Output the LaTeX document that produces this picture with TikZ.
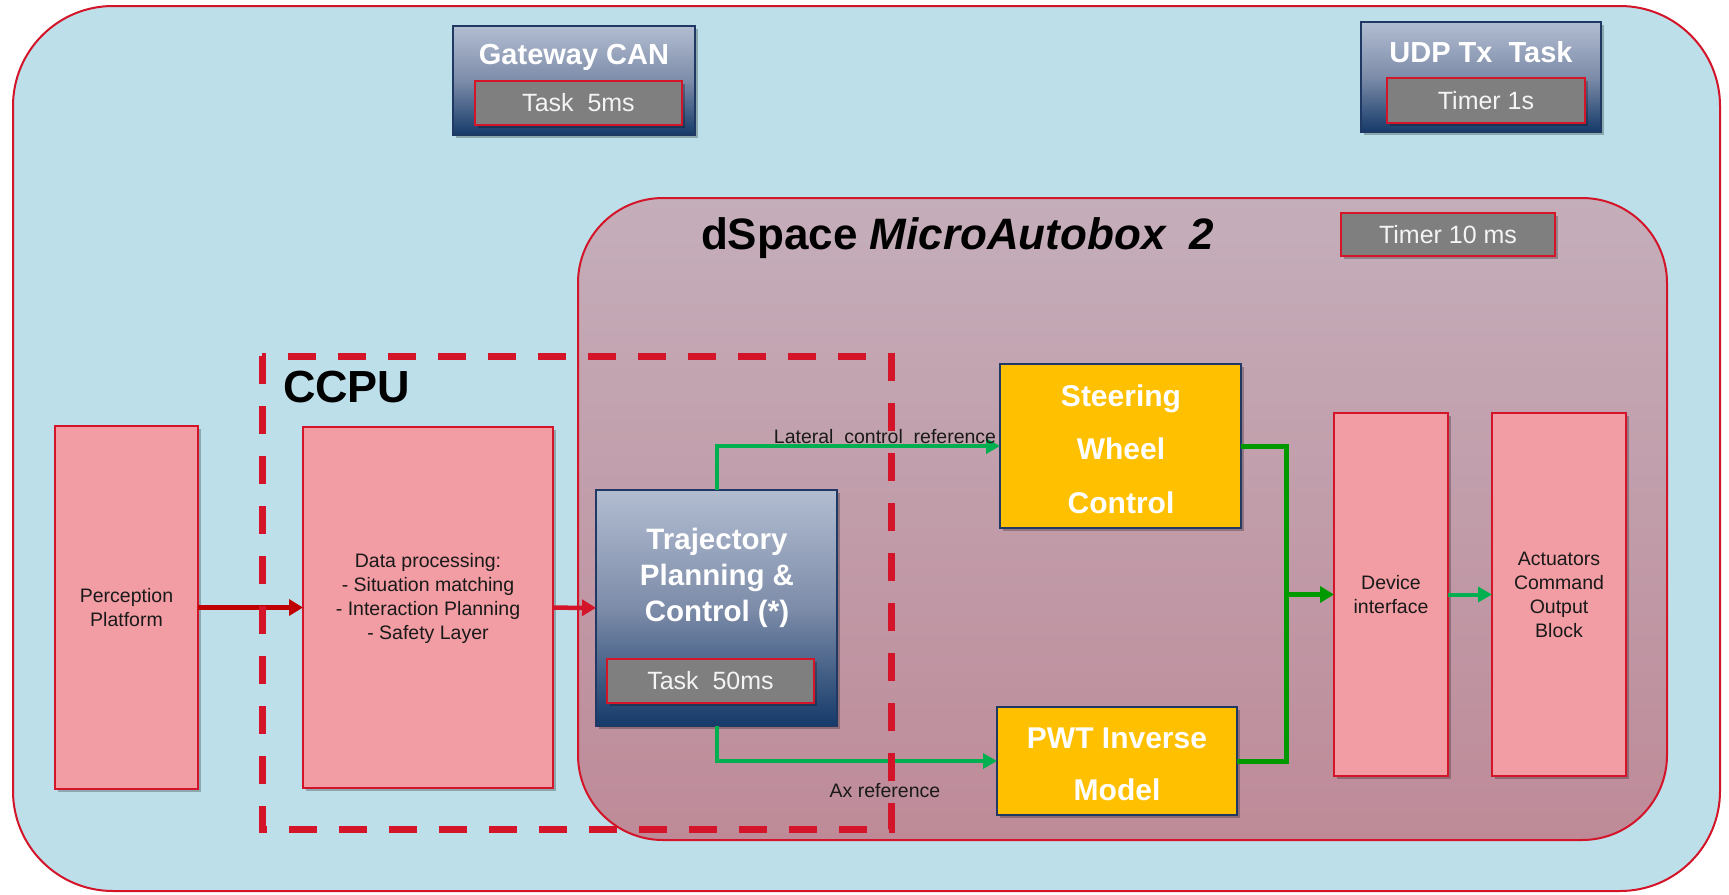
\documentclass[tikz,border=0pt]{standalone}
\usepackage{fontspec}
\setmainfont{Liberation Sans}
\usetikzlibrary{arrows.meta,shadows,calc}
\definecolor{outerblue}{HTML}{BDDFEA}
\definecolor{bred}{HTML}{D41428}
\definecolor{pinkf}{HTML}{F29CA3}
\definecolor{navy}{HTML}{1F3864}
\definecolor{gold}{HTML}{FFC000}
\definecolor{grn}{HTML}{00B050}
\definecolor{dgrn}{HTML}{009A00}
\definecolor{dred}{HTML}{C00000}
\definecolor{mtop}{HTML}{C4AEBA}
\definecolor{mbot}{HTML}{BE8A98}
\definecolor{gtop}{HTML}{B2BDD1}
\definecolor{gmid}{HTML}{7D8CA9}
\definecolor{gbot}{HTML}{153A69}
\definecolor{grayf}{HTML}{7F7F7F}
\definecolor{txt}{HTML}{1A1A1A}
\definecolor{wtxt}{HTML}{F4F4F4}
\begin{document}
\begin{tikzpicture}[x=1pt,y=-1pt,
  every node/.style={inner sep=0pt, outer sep=0pt},
  shad/.style={drop shadow={shadow xshift=2.5pt,shadow yshift=-3pt,opacity=0.25,fill=black}},
  pinkbox/.style={draw=bred, line width=2.5pt, fill=pinkf, shad, align=center, text=txt, font=\fontsize{19.5}{24}\selectfont},
  navybox/.style={draw=navy, line width=2.5pt, top color=gtop, bottom color=gbot, middle color=gmid, shad},
  graybox/.style={draw=bred, line width=2.5pt, fill=grayf, shad, text=wtxt, font=\fontsize{25}{30}\selectfont},
  goldbox/.style={draw=navy, line width=2.5pt, fill=gold, shad},
  goldtxt/.style={align=center, text=white, font=\bfseries\fontsize{30}{53.5}\selectfont},
  boldw/.style={text=white, font=\bfseries\fontsize{29}{35}\selectfont, align=center},
  plaintxt/.style={align=center, text=txt, font=\fontsize{19.5}{24}\selectfont},
  lbl/.style={text=txt, font=\fontsize{19.5}{24}\selectfont},
  redarr/.style={line width=4.5pt, -{Triangle[length=14pt,width=16pt]}},
  grnarr/.style={draw=grn, line width=4pt, -{Triangle[length=14pt,width=15pt]}},
  dgline/.style={draw=dgrn, line width=5pt},
  ccpu/.style={draw=bred, line width=7pt, dash pattern=on 28pt off 22pt}
]
\useasboundingbox (0,0) rectangle (1729,894);
\fill[white] (0,0) rectangle (1729,894);
% containers
\draw[draw=bred, line width=2pt, fill=outerblue, rounded corners=100pt] (13,6) rectangle (1720,891);
\draw[draw=bred, line width=2pt, top color=mtop, bottom color=mbot, rounded corners=85pt] (578,198) rectangle (1667,840);

% top task boxes
\node[navybox, minimum width=242, minimum height=109] (gw) at (574,80.5) {};
\node[boldw] (gwt) at (574,57) {Gateway CAN};
\node[graybox, minimum width=207, minimum height=44] (gwg) at (578.5,103) {Task~ 5ms};

\node[navybox, minimum width=240, minimum height=110] (udp) at (1481,77) {};
\node[boldw] (udpt) at (1481,52) {UDP Tx~ Task};
\node[graybox, minimum width=198, minimum height=45] (udpg) at (1486,100.5) {Timer 1s};

% dSpace title and timer
\node[anchor=base west, text=black, font=\bfseries\fontsize{44}{50}\selectfont] (ds) at (701,249) {dSpace \textit{MicroAutobox~ 2}};
\node[graybox, minimum width=214, minimum height=43] (t10) at (1448,234.5) {Timer 10 ms};

% CCPU title
\node[anchor=base west, text=black, font=\bfseries\fontsize{45}{50}\selectfont] (ccput) at (283,402) {CCPU};

% blocks
\node[pinkbox, minimum width=143, minimum height=363] (perc) at (126.5,607.5) {Perception\\Platform};
\node[pinkbox, minimum width=250, minimum height=361] (data) at (428,607.5) {};
\node[plaintxt] (datat) at (428,598) {Data processing:\\- Situation matching\\- Interaction Planning\\- Safety Layer};
\node[navybox, minimum width=241, minimum height=236] (traj) at (716.5,608) {};
\node[boldw, font=\bfseries\fontsize{29.5}{36}\selectfont] (trajt) at (717,578) {Trajectory\\Planning \&\\Control (*)};
\node[graybox, minimum width=207, minimum height=44] (trajg) at (710.5,681) {Task~ 50ms};
\node[goldbox, minimum width=241, minimum height=164] (steer) at (1120.5,446) {};
\node[goldtxt] (steert) at (1121,449) {Steering\\Wheel\\Control};
\node[goldbox, minimum width=240, minimum height=108] (pwt) at (1117,761) {};
\node[goldtxt, font=\bfseries\fontsize{30}{52}\selectfont] (pwtt) at (1117,764) {PWT Inverse\\Model};
\node[pinkbox, minimum width=114, minimum height=363] (dev) at (1391,594.5) {Device\\interface};
\node[pinkbox, minimum width=134, minimum height=363] (act) at (1559,594.5) {Actuators\\Command\\Output\\Block};

% connectors
\draw[redarr, draw=dred, color=dred] (perc) -- (data);
\draw[redarr, draw=bred, color=bred] (data) -- (traj);
\draw[grnarr, color=grn] (traj.north) |- (steer.west);
\draw[grnarr, color=grn] (traj.south) |- (pwt.west);
\node[lbl, anchor=base] (latl) at (885,443) {Lateral\ \ control\ \ reference};
\node[lbl, anchor=base] (axl) at (885,797) {Ax reference};

\coordinate (jt) at (1286,446);
\coordinate (jb) at (1286,761);
\coordinate (jm) at (1286,594.5);
\draw[dgline, line join=miter] (steer.east) -- (jt) -- (jb) -- (pwt.east);
\draw[dgline, color=dgrn, -{Triangle[length=14pt,width=16pt]}] (jm) -- (dev.west);
\draw[grnarr, color=grn] (dev) -- (act);

% CCPU dashed boundary
\draw[ccpu] (262,356) rectangle (891,829);
\end{tikzpicture}
\end{document}
